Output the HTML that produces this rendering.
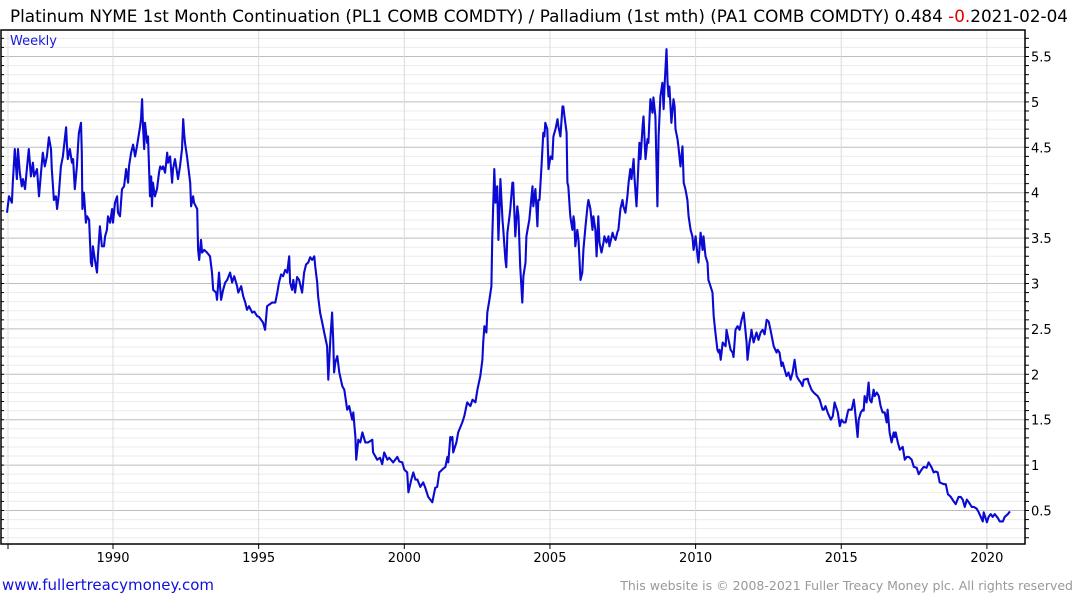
<!DOCTYPE html>
<html><head><meta charset="utf-8"><style>
html,body{margin:0;padding:0;background:#fff;width:1075px;height:600px;overflow:hidden}
svg{display:block;font-family:"DejaVu Sans","Liberation Sans",sans-serif}
</style></head><body>
<svg id="chart" width="1075" height="600" viewBox="0 0 1075 600" xmlns="http://www.w3.org/2000/svg">
<text x="10" y="22" font-size="17" fill="#000" textLength="1058" lengthAdjust="spacingAndGlyphs">Platinum NYME 1st Month Continuation (PL1 COMB COMDTY) / Palladium (1st mth)  (PA1 COMB COMDTY) 0.484 <tspan fill="#e00000">-0.</tspan>2021-02-04</text>
<g id="grid"></g>
<g id="axes"></g>
<path id="series" fill="none" stroke="#0a0ad2" stroke-width="2.1" stroke-linejoin="round"/>
<text x="10" y="45" font-size="13" fill="#1a1ad8">Weekly</text>
<text x="2" y="590" font-size="15" fill="#1010e0">www.fullertreacymoney.com</text>
<text x="1073" y="590" font-size="12.5" fill="#999" text-anchor="end">This website is © 2008-2021 Fuller Treacy Money plc. All rights reserved</text>
</svg>
<script>
const dates=[1986.36,1986.43,1986.53,1986.56,1986.63,1986.70,1986.74,1986.80,1986.87,1986.91,1986.98,1987.05,1987.11,1987.18,1987.25,1987.29,1987.39,1987.46,1987.53,1987.59,1987.66,1987.73,1987.80,1987.87,1987.90,1987.97,1988.04,1988.08,1988.14,1988.21,1988.28,1988.39,1988.42,1988.45,1988.52,1988.59,1988.63,1988.69,1988.76,1988.80,1988.83,1988.90,1988.93,1988.95,1989.00,1989.07,1989.11,1989.18,1989.24,1989.28,1989.31,1989.38,1989.45,1989.48,1989.55,1989.62,1989.69,1989.73,1989.79,1989.83,1989.90,1989.97,1990.00,1990.07,1990.14,1990.17,1990.24,1990.31,1990.38,1990.45,1990.52,1990.55,1990.62,1990.69,1990.76,1990.82,1990.86,1990.93,1990.96,1991.00,1991.03,1991.07,1991.10,1991.17,1991.20,1991.24,1991.27,1991.31,1991.34,1991.37,1991.44,1991.51,1991.58,1991.62,1991.68,1991.72,1991.79,1991.86,1991.89,1991.96,1992.03,1992.06,1992.13,1992.20,1992.23,1992.30,1992.37,1992.41,1992.44,1992.47,1992.54,1992.58,1992.65,1992.68,1992.75,1992.78,1992.89,1992.92,1992.96,1993.02,1993.06,1993.13,1993.23,1993.33,1993.40,1993.44,1993.54,1993.57,1993.64,1993.71,1993.78,1993.85,1993.92,1994.02,1994.09,1994.16,1994.26,1994.30,1994.40,1994.47,1994.54,1994.60,1994.67,1994.78,1994.85,1994.95,1995.02,1995.15,1995.22,1995.29,1995.46,1995.57,1995.64,1995.70,1995.77,1995.84,1995.91,1995.98,1996.05,1996.08,1996.15,1996.19,1996.25,1996.32,1996.39,1996.49,1996.56,1996.63,1996.70,1996.77,1996.84,1996.91,1996.94,1997.01,1997.04,1997.11,1997.18,1997.25,1997.35,1997.39,1997.46,1997.52,1997.56,1997.59,1997.63,1997.70,1997.77,1997.87,1997.94,1998.04,1998.11,1998.21,1998.25,1998.32,1998.35,1998.42,1998.49,1998.56,1998.66,1998.76,1998.90,1998.93,1999.07,1999.17,1999.24,1999.31,1999.42,1999.48,1999.62,1999.76,1999.83,1999.93,2000.00,2000.10,2000.14,2000.24,2000.31,2000.38,2000.45,2000.55,2000.65,2000.72,2000.82,2000.96,2001.06,2001.13,2001.20,2001.30,2001.41,2001.48,2001.51,2001.58,2001.61,2001.65,2001.68,2001.79,2001.85,2001.99,2002.06,2002.16,2002.27,2002.34,2002.44,2002.51,2002.61,2002.68,2002.71,2002.75,2002.82,2002.85,2002.92,2002.99,2003.02,2003.09,2003.13,2003.19,2003.23,2003.26,2003.30,2003.37,2003.40,2003.47,2003.50,2003.54,2003.61,2003.64,2003.71,2003.74,2003.81,2003.88,2003.92,2003.98,2004.05,2004.09,2004.16,2004.19,2004.23,2004.29,2004.40,2004.43,2004.50,2004.57,2004.60,2004.64,2004.71,2004.77,2004.81,2004.84,2004.91,2004.95,2005.02,2005.08,2005.12,2005.19,2005.26,2005.29,2005.36,2005.43,2005.46,2005.50,2005.57,2005.60,2005.63,2005.70,2005.77,2005.81,2005.84,2005.87,2005.94,2005.98,2006.05,2006.11,2006.15,2006.22,2006.29,2006.32,2006.39,2006.46,2006.49,2006.56,2006.60,2006.66,2006.70,2006.77,2006.84,2006.87,2006.94,2007.01,2007.04,2007.15,2007.18,2007.25,2007.32,2007.35,2007.42,2007.49,2007.52,2007.59,2007.66,2007.70,2007.76,2007.80,2007.87,2007.90,2007.97,2008.01,2008.07,2008.11,2008.18,2008.21,2008.28,2008.35,2008.38,2008.45,2008.52,2008.55,2008.62,2008.69,2008.73,2008.76,2008.79,2008.86,2008.90,2008.93,2009.00,2009.04,2009.07,2009.10,2009.17,2009.24,2009.28,2009.31,2009.38,2009.41,2009.48,2009.55,2009.59,2009.65,2009.72,2009.76,2009.83,2009.89,2009.93,2010.00,2010.07,2010.10,2010.17,2010.24,2010.27,2010.34,2010.41,2010.44,2010.51,2010.58,2010.62,2010.68,2010.75,2010.79,2010.82,2010.86,2010.93,2011.03,2011.06,2011.13,2011.20,2011.27,2011.30,2011.37,2011.44,2011.51,2011.58,2011.65,2011.75,2011.78,2011.85,2011.89,2011.92,2011.99,2012.09,2012.16,2012.23,2012.30,2012.37,2012.44,2012.51,2012.57,2012.68,2012.78,2012.82,2012.88,2012.95,2012.99,2013.06,2013.12,2013.19,2013.26,2013.33,2013.40,2013.47,2013.54,2013.61,2013.67,2013.71,2013.85,2013.88,2013.98,2014.05,2014.12,2014.19,2014.26,2014.36,2014.40,2014.46,2014.53,2014.64,2014.71,2014.77,2014.88,2014.95,2015.01,2015.08,2015.15,2015.22,2015.25,2015.36,2015.43,2015.46,2015.56,2015.60,2015.67,2015.74,2015.77,2015.80,2015.87,2015.94,2015.98,2016.04,2016.11,2016.15,2016.22,2016.29,2016.35,2016.42,2016.49,2016.56,2016.59,2016.66,2016.73,2016.80,2016.84,2016.87,2016.94,2017.01,2017.11,2017.18,2017.25,2017.32,2017.42,2017.49,2017.59,2017.66,2017.76,2017.83,2017.93,2018.00,2018.11,2018.17,2018.24,2018.31,2018.38,2018.52,2018.59,2018.66,2018.76,2018.86,2018.93,2019.03,2019.10,2019.17,2019.24,2019.31,2019.38,2019.48,2019.55,2019.65,2019.72,2019.86,2019.89,2020.00,2020.06,2020.13,2020.20,2020.27,2020.37,2020.44,2020.55,2020.61,2020.72,2020.79,2020.89,2020.96,2021.06];
const ratio=[3.78,3.96,3.89,4.11,4.48,4.15,4.48,4.22,4.07,4.15,4.04,4.29,4.48,4.18,4.33,4.18,4.26,3.96,4.22,4.44,4.29,4.40,4.61,4.48,4.26,3.92,3.96,3.82,3.98,4.29,4.40,4.72,4.51,4.37,4.48,4.33,4.37,4.04,4.29,4.51,4.66,4.77,4.44,3.82,4.00,3.67,3.74,3.70,3.23,3.19,3.41,3.26,3.12,3.30,3.63,3.41,3.41,3.52,3.59,3.74,3.67,3.82,3.67,3.89,3.96,3.78,3.74,4.04,4.07,4.26,4.11,4.29,4.44,4.53,4.40,4.51,4.59,4.73,4.81,5.03,4.73,4.48,4.77,4.55,4.62,4.26,3.96,4.18,3.85,4.11,3.96,4.04,4.22,4.29,4.26,4.29,4.22,4.44,4.33,4.40,4.11,4.26,4.37,4.22,4.15,4.29,4.48,4.81,4.66,4.55,4.40,4.29,4.11,3.85,3.96,3.89,3.82,3.37,3.26,3.48,3.34,3.37,3.34,3.30,3.12,2.93,2.90,2.82,3.12,2.82,2.93,3.01,3.04,3.12,3.01,3.08,2.97,2.90,2.97,2.86,2.79,2.71,2.75,2.68,2.69,2.64,2.63,2.57,2.49,2.75,2.79,2.79,2.90,3.01,3.10,3.08,3.15,3.12,3.30,3.01,2.93,3.04,2.90,3.07,3.04,2.90,3.12,3.21,3.23,3.29,3.26,3.30,3.19,3.01,2.86,2.68,2.57,2.46,2.31,1.94,2.38,2.68,2.38,2.02,2.13,2.20,2.02,1.87,1.83,1.61,1.65,1.50,1.58,1.31,1.06,1.28,1.25,1.36,1.25,1.25,1.28,1.14,1.06,1.08,1.01,1.14,1.06,1.08,1.03,1.09,1.04,1.03,0.95,0.92,0.70,0.84,0.92,0.84,0.84,0.76,0.81,0.75,0.65,0.59,0.75,0.76,0.92,0.95,0.98,1.09,1.03,1.31,1.28,1.31,1.14,1.25,1.36,1.47,1.54,1.69,1.65,1.72,1.69,1.83,1.98,2.16,2.35,2.53,2.46,2.68,2.82,2.97,3.52,4.26,3.89,4.07,3.48,3.74,4.15,3.70,3.59,3.26,3.18,3.56,3.74,3.82,4.11,4.11,3.52,3.85,3.74,3.19,2.79,3.08,3.23,3.52,3.59,3.70,4.07,3.85,4.04,3.63,3.92,3.92,4.29,4.66,4.62,4.77,4.70,4.26,4.40,4.37,4.62,4.70,4.81,4.73,4.62,4.95,4.95,4.84,4.66,4.11,4.07,3.74,3.59,3.74,3.67,3.41,3.59,3.48,3.04,3.12,3.37,3.63,3.85,3.92,3.82,3.59,3.74,3.59,3.30,3.74,3.45,3.34,3.45,3.52,3.45,3.52,3.41,3.56,3.52,3.48,3.57,3.59,3.82,3.92,3.85,3.78,3.96,4.11,4.26,4.15,4.37,4.18,3.85,4.11,4.55,4.37,4.73,4.84,4.37,4.59,4.55,5.03,4.88,5.05,4.84,3.85,4.62,4.84,5.06,5.21,4.92,5.14,5.58,5.21,5.06,5.17,4.77,5.03,4.95,4.70,4.59,4.51,4.29,4.51,4.11,4.04,3.92,3.74,3.59,3.52,3.37,3.52,3.30,3.23,3.56,3.37,3.52,3.30,3.23,3.04,2.97,2.90,2.64,2.46,2.27,2.24,2.27,2.16,2.35,2.31,2.49,2.38,2.27,2.24,2.19,2.49,2.53,2.49,2.60,2.68,2.35,2.16,2.35,2.42,2.49,2.35,2.46,2.38,2.46,2.49,2.44,2.60,2.58,2.49,2.31,2.24,2.27,2.24,2.09,2.13,2.05,1.98,2.02,1.94,2.02,2.16,1.98,1.94,1.91,1.87,1.94,1.95,1.91,1.83,1.80,1.78,1.76,1.72,1.61,1.61,1.65,1.58,1.50,1.54,1.69,1.58,1.43,1.50,1.47,1.47,1.58,1.61,1.61,1.72,1.65,1.31,1.50,1.58,1.61,1.60,1.76,1.69,1.91,1.72,1.69,1.83,1.76,1.80,1.76,1.65,1.58,1.58,1.47,1.61,1.36,1.25,1.36,1.31,1.36,1.25,1.17,1.20,1.06,1.09,1.09,1.06,0.98,0.97,0.90,0.95,0.98,0.97,1.03,0.97,0.92,0.93,0.92,0.81,0.79,0.79,0.68,0.65,0.60,0.57,0.65,0.65,0.62,0.54,0.62,0.59,0.54,0.54,0.52,0.48,0.38,0.48,0.37,0.43,0.46,0.43,0.46,0.42,0.38,0.38,0.43,0.46,0.49];
const yTicks=[0.5,1,1.5,2,2.5,3,3.5,4,4.5,5,5.5];
const xTicks=[1990,1995,2000,2005,2010,2015,2020];

const L=1,R=1025,T=30,B=544;
function xs(yr){return 113+(yr-1990)*29.13;}
function ys(v){return 510.5-(v-0.5)*90.8;}
const NS='http://www.w3.org/2000/svg';
function mk(tag,attrs,parent){const e=document.createElementNS(NS,tag);for(const k in attrs)e.setAttribute(k,attrs[k]);parent.appendChild(e);return e;}
const grid=document.getElementById('grid'),axes=document.getElementById('axes');
for(let i=2;i<=57;i++){
  const v=i/10,y=ys(v);if(y<T||y>B)continue;
  const major=(i%5===0);
  const g=mk('line',{x1:L,x2:R,y1:y,y2:y,stroke:major?'#bdbdbd':'#ebebeb','stroke-width':1},grid);
  
  
  const t1=mk('line',{x1:R,x2:R+4,y1:y,y2:y,stroke:'#000'},axes);
  
  
  const t2=mk('line',{x1:L,x2:L+3,y1:y,y2:y,stroke:'#000'},axes);
  
  
}
const vg=mk('line',{x1:8,x2:8,y1:T,y2:B,stroke:'#e0e0e0'},grid);


const vt=mk('line',{x1:8,x2:8,y1:B,y2:B+5,stroke:'#000'},axes);


xTicks.forEach(yr=>{
  const x=xs(yr);
  const g=mk('line',{x1:x,x2:x,y1:T,y2:B,stroke:'#dcdcdc'},grid);
  
  
  const t=mk('line',{x1:x,x2:x,y1:B,y2:B+5,stroke:'#000'},axes);
  
  
  const lb=mk('text',{x:x,y:562,'font-size':13,'text-anchor':'middle',fill:'#000'},axes);
  
  
  lb.textContent=yr;
});
yTicks.forEach(v=>{
  const lb=mk('text',{x:1031,y:ys(v)+5,'font-size':13,fill:'#000'},axes);
  
  
  lb.textContent=v;
});
const fr=mk('rect',{x:L,y:T,width:R-L,height:B-T,fill:'none',stroke:'#000','stroke-width':1.5},axes);


let d='';
for(let i=0;i<dates.length;i++){d+=(i?'L':'M')+xs(dates[i]).toFixed(1)+' '+ys(ratio[i]).toFixed(1);}
document.getElementById('series').setAttribute('d',d);
</script>
</body></html>
